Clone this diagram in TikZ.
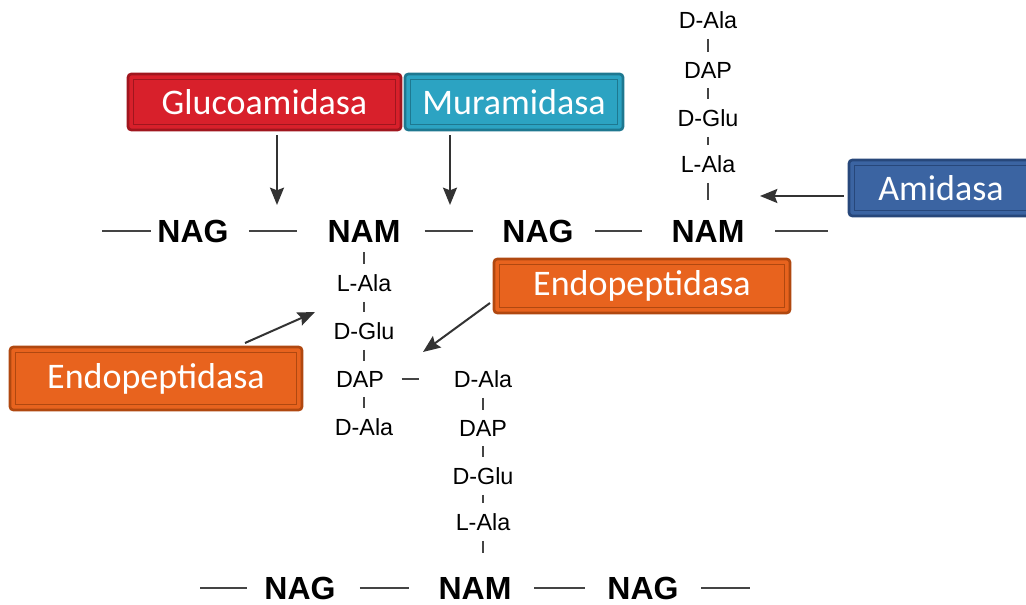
\documentclass[tikz,border=0pt]{standalone}
\usepackage{fontspec}
\setmainfont{Liberation Sans}
\newfontfamily\boxfont{Carlito}
\usetikzlibrary{arrows.meta}
\definecolor{redF}{HTML}{D8202B}\definecolor{redD}{HTML}{A0161E}
\definecolor{tealF}{HTML}{2CA3C2}\definecolor{tealD}{HTML}{1E7890}
\definecolor{blueF}{HTML}{3B64A2}\definecolor{blueD}{HTML}{27477A}
\definecolor{oraF}{HTML}{E8631E}\definecolor{oraD}{HTML}{B04810}
\definecolor{bondc}{HTML}{444444}
\begin{document}
\begin{tikzpicture}[x=0.75pt,y=-0.75pt,
  enz/.style n args={2}{fill=#1, draw=#2, line width=2pt, rounded corners=2.5pt,
    text=white, font=\boxfont\fontsize{27}{30}\selectfont, inner sep=0pt,
    path picture={\draw[#2, line width=0.7pt, sharp corners]
      ([shift={(4pt,-4pt)}]path picture bounding box.north west) rectangle
      ([shift={(-4pt,4pt)}]path picture bounding box.south east);}},
  sug/.style={font=\bfseries\fontsize{24}{26}\selectfont, inner sep=0pt},
  aa/.style={font=\fontsize{17.5}{20}\selectfont, inner sep=0pt},
  bond/.style={draw=bondc, line width=1.6pt},
  vb/.style={draw=bondc, line width=1.6pt, shorten <=7.5pt, shorten >=7.5pt},
  arr/.style={draw=black!80, line width=1.5pt, -{Stealth[length=13pt,width=10.5pt,inset=2pt]}}]
\useasboundingbox (0,0) rectangle (1026,605);

% enzyme boxes
\node[enz={redF}{redD}, minimum width=204.75pt, minimum height=42pt] (gluco) at (264.5,102) {Glucoamidasa};
\node[enz={tealF}{tealD}, minimum width=163.5pt, minimum height=42pt] (mura) at (514,102) {Muramidasa};
\node[enz={blueF}{blueD}, minimum width=138pt, minimum height=42pt] (amid) at (941,188) {Amidasa};
\node[enz={oraF}{oraD}, minimum width=222pt, minimum height=40.5pt] (endoR) at (642,286) {Endopeptidasa};
\node[enz={oraF}{oraD}, minimum width=219pt, minimum height=47.25pt] (endoL) at (156,378.5) {Endopeptidasa};

% top glycan chain
\node[sug] (nag1) at (193,231) {NAG};
\node[sug] (nam1) at (364,231) {NAM};
\node[sug] (nag2) at (538,231) {NAG};
\node[sug] (nam2) at (708,231) {NAM};
\coordinate (l1) at (102,231);
\coordinate (r1) at (828,231);
\draw[bond, shorten >=5pt] (l1) -- (nag1);
\draw[bond, shorten <=15pt, shorten >=23pt] (nag1) -- (nam1);
\draw[bond, shorten <=18pt, shorten >=22pt] (nam1) -- (nag2);
\draw[bond, shorten <=16pt, shorten >=22pt] (nag2) -- (nam2);
\draw[bond, shorten <=23pt] (nam2) -- (r1);

% bottom glycan chain
\node[sug] (nag3) at (300,588) {NAG};
\node[sug] (nam3) at (475,588) {NAM};
\node[sug] (nag4) at (643,588) {NAG};
\coordinate (l2) at (200,588);
\coordinate (r2) at (750,588);
\draw[bond, shorten >=13pt] (l2) -- (nag3);
\draw[bond, shorten <=18pt, shorten >=22pt] (nag3) -- (nam3);
\draw[bond, shorten <=17pt, shorten >=17pt] (nam3) -- (nag4);
\draw[bond, shorten <=17pt] (nag4) -- (r2);

% peptide from top NAM
\node[aa] (a1) at (364,283) {L-Ala};
\node[aa] (a2) at (364,331) {D-Glu};
\node[aa] (a3) at (360,379) {DAP};
\node[aa] (a4) at (364,427) {D-Ala};
\draw[vb] (nam1) -- (a1);
\draw[vb] (a1) -- (a2);
\draw[vb] (a2) -- (a3.north -| a2);
\draw[vb] (a3.south -| a4) -- (a4);

% peptide from bottom NAM
\node[aa] (b4) at (483,379) {D-Ala};
\node[aa] (b3) at (483,428) {DAP};
\node[aa] (b2) at (483,476) {D-Glu};
\node[aa] (b1) at (483,522) {L-Ala};
\draw[vb] (b4) -- (b3);
\draw[vb] (b3) -- (b2);
\draw[vb] (b2) -- (b1);
\draw[vb, shorten >=18pt] (b1) -- (b1 |- nam3.north);
\draw[bond, shorten <=13pt, shorten >=26pt] (a3) -- (b4);

% peptide from right NAM
\node[aa] (c4) at (708,20) {D-Ala};
\node[aa] (c3) at (708,70) {DAP};
\node[aa] (c2) at (708,118) {D-Glu};
\node[aa] (c1) at (708,164) {L-Ala};
\draw[vb] (c4) -- (c3);
\draw[vb] (c3) -- (c2);
\draw[vb] (c2) -- (c1);
\draw[vb, shorten >=15pt] (c1) -- (nam2);

% arrows
\coordinate (t1) at (277,205);
\coordinate (t2) at (450,205);
\coordinate (t3) at (760,196);
\coordinate (t4) at (315,312);
\coordinate (t5) at (423,352);
\coordinate (s4) at (245,343);
\coordinate (s5) at (490,303);
\draw[arr] ([yshift=-3pt]gluco.south -| t1) -- (t1);
\draw[arr] ([yshift=-3pt]mura.south -| t2) -- (t2);
\draw[arr] ([xshift=-3pt]amid.west |- t3) -- (t3);
\draw[arr] (s4) -- (t4);
\draw[arr] (s5) -- (t5);
\end{tikzpicture}
\end{document}
